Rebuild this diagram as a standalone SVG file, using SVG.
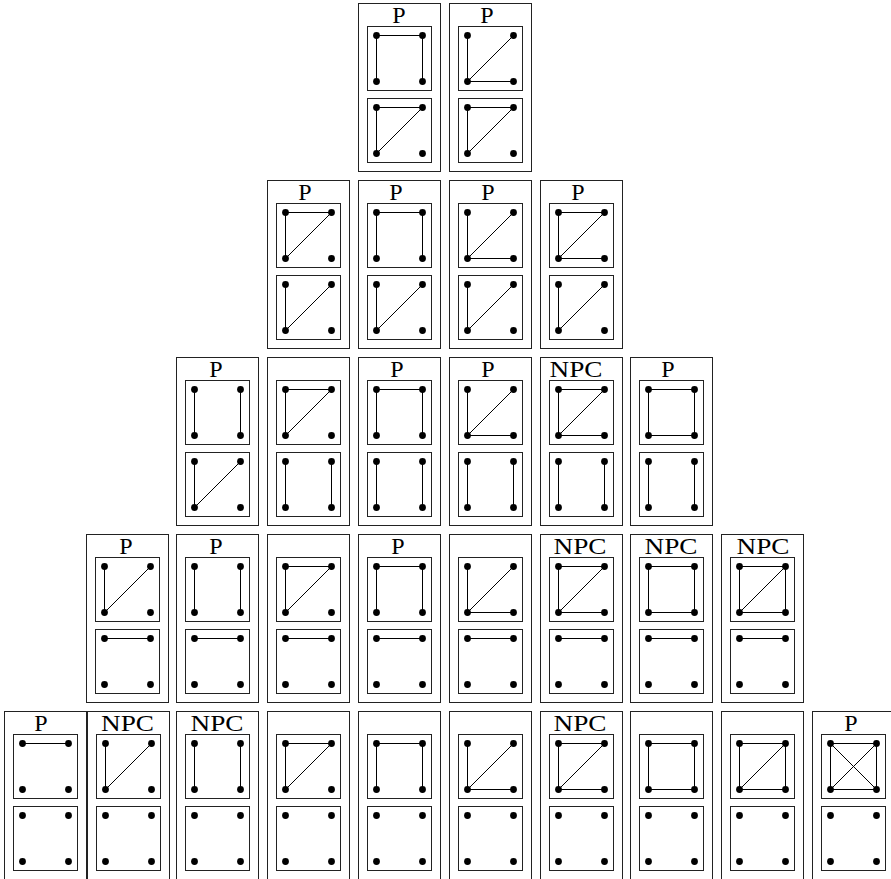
<svg xmlns="http://www.w3.org/2000/svg" xmlns:xlink="http://www.w3.org/1999/xlink" width="891" height="879" viewBox="0 0 891 879">
<style>
.card{fill:none;stroke:#222;stroke-width:1}
.in{fill:none;stroke:#222;stroke-width:1}
.e{fill:none;stroke:#000;stroke-width:1}
.dot{fill:#000}
.lbl{font-family:"Liberation Serif","DejaVu Serif",serif;font-size:24px;text-anchor:middle;fill:#000}
</style>
<defs>
<g id="dots"><circle class="dot" cx="9.5" cy="9.5" r="3.4"/><circle class="dot" cx="55.5" cy="9.5" r="3.4"/><circle class="dot" cx="9.5" cy="55.5" r="3.4"/><circle class="dot" cx="55.5" cy="55.5" r="3.4"/></g>
<rect id="box" class="in" x="0.5" y="0.5" width="64" height="64"/>
<path id="eT" class="e" d="M9.5 9.5H55.5"/>
<path id="eB" class="e" d="M9.5 55.5H55.5"/>
<path id="eL" class="e" d="M9.5 9.5V55.5"/>
<path id="eR" class="e" d="M55.5 9.5V55.5"/>
<path id="eD" class="e" d="M9.5 55.5L55.5 9.5"/>
<path id="eE" class="e" d="M9.5 9.5L55.5 55.5"/>
<rect id="frame" class="card" x="0.5" y="0.5" width="82" height="168"/>
</defs>
<rect width="891" height="879" fill="#fff"/>

<!-- Row 1 -->
<g id="r1c1" transform="translate(358,3)"><use href="#frame"/><text class="lbl" x="41" y="20">P</text>
<g transform="translate(9,23)"><use href="#box"/><use href="#eT"/><use href="#eL"/><use href="#eR"/><use href="#dots"/></g>
<g transform="translate(9,95)"><use href="#box"/><use href="#eT"/><use href="#eL"/><use href="#eD"/><use href="#dots"/></g></g>
<g id="r1c2" transform="translate(449,3)"><use href="#frame"/><text class="lbl" x="38" y="20">P</text>
<g transform="translate(9,23)"><use href="#box"/><use href="#eL"/><use href="#eD"/><use href="#eB"/><use href="#dots"/></g>
<g transform="translate(9,95)"><use href="#box"/><use href="#eT"/><use href="#eL"/><use href="#eD"/><use href="#dots"/></g></g>

<!-- Row 2 -->
<g id="r2c1" transform="translate(267,180)"><use href="#frame"/><text class="lbl" x="38" y="20">P</text>
<g transform="translate(9,23)"><use href="#box"/><use href="#eT"/><use href="#eL"/><use href="#eD"/><use href="#dots"/></g>
<g transform="translate(9,95)"><use href="#box"/><use href="#eL"/><use href="#eD"/><use href="#dots"/></g></g>
<g id="r2c2" transform="translate(358,180)"><use href="#frame"/><text class="lbl" x="38" y="20">P</text>
<g transform="translate(9,23)"><use href="#box"/><use href="#eT"/><use href="#eL"/><use href="#eR"/><use href="#dots"/></g>
<g transform="translate(9,95)"><use href="#box"/><use href="#eL"/><use href="#eD"/><use href="#dots"/></g></g>
<g id="r2c3" transform="translate(449,180)"><use href="#frame"/><text class="lbl" x="39" y="20">P</text>
<g transform="translate(9,23)"><use href="#box"/><use href="#eL"/><use href="#eD"/><use href="#eB"/><use href="#dots"/></g>
<g transform="translate(9,95)"><use href="#box"/><use href="#eL"/><use href="#eD"/><use href="#dots"/></g></g>
<g id="r2c4" transform="translate(540,180)"><use href="#frame"/><text class="lbl" x="38" y="20">P</text>
<g transform="translate(9,23)"><use href="#box"/><use href="#eT"/><use href="#eL"/><use href="#eD"/><use href="#eB"/><use href="#dots"/></g>
<g transform="translate(9,95)"><use href="#box"/><use href="#eL"/><use href="#eD"/><use href="#dots"/></g></g>

<!-- Row 3 -->
<g id="r3c1" transform="translate(176,357)"><use href="#frame"/><text class="lbl" x="40" y="20">P</text>
<g transform="translate(9,23)"><use href="#box"/><use href="#eL"/><use href="#eR"/><use href="#dots"/></g>
<g transform="translate(9,95)"><use href="#box"/><use href="#eL"/><use href="#eD"/><use href="#dots"/></g></g>
<g id="r3c2" transform="translate(267,357)"><use href="#frame"/>
<g transform="translate(9,23)"><use href="#box"/><use href="#eT"/><use href="#eL"/><use href="#eD"/><use href="#dots"/></g>
<g transform="translate(9,95)"><use href="#box"/><use href="#eL"/><use href="#eR"/><use href="#dots"/></g></g>
<g id="r3c3" transform="translate(358,357)"><use href="#frame"/><text class="lbl" x="39" y="20">P</text>
<g transform="translate(9,23)"><use href="#box"/><use href="#eT"/><use href="#eL"/><use href="#eR"/><use href="#dots"/></g>
<g transform="translate(9,95)"><use href="#box"/><use href="#eL"/><use href="#eR"/><use href="#dots"/></g></g>
<g id="r3c4" transform="translate(449,357)"><use href="#frame"/><text class="lbl" x="39" y="20">P</text>
<g transform="translate(9,23)"><use href="#box"/><use href="#eL"/><use href="#eD"/><use href="#eB"/><use href="#dots"/></g>
<g transform="translate(9,95)"><use href="#box"/><use href="#eL"/><use href="#eR"/><use href="#dots"/></g></g>
<g id="r3c5" transform="translate(540,357)"><use href="#frame"/><text class="lbl" x="36" y="20" textLength="53" lengthAdjust="spacingAndGlyphs">NPC</text>
<g transform="translate(9,23)"><use href="#box"/><use href="#eT"/><use href="#eL"/><use href="#eD"/><use href="#eB"/><use href="#dots"/></g>
<g transform="translate(9,95)"><use href="#box"/><use href="#eL"/><use href="#eR"/><use href="#dots"/></g></g>
<g id="r3c6" transform="translate(630,357)"><use href="#frame"/><text class="lbl" x="38" y="20">P</text>
<g transform="translate(9,23)"><use href="#box"/><use href="#eT"/><use href="#eL"/><use href="#eR"/><use href="#eB"/><use href="#dots"/></g>
<g transform="translate(9,95)"><use href="#box"/><use href="#eL"/><use href="#eR"/><use href="#dots"/></g></g>

<!-- Row 4 -->
<g id="r4c1" transform="translate(86,534)"><use href="#frame"/><text class="lbl" x="40" y="20">P</text>
<g transform="translate(9,23)"><use href="#box"/><use href="#eL"/><use href="#eD"/><use href="#dots"/></g>
<g transform="translate(9,95)"><use href="#box"/><use href="#eT"/><use href="#dots"/></g></g>
<g id="r4c2" transform="translate(176,534)"><use href="#frame"/><text class="lbl" x="40" y="20">P</text>
<g transform="translate(9,23)"><use href="#box"/><use href="#eL"/><use href="#eR"/><use href="#dots"/></g>
<g transform="translate(9,95)"><use href="#box"/><use href="#eT"/><use href="#dots"/></g></g>
<g id="r4c3" transform="translate(267,534)"><use href="#frame"/>
<g transform="translate(9,23)"><use href="#box"/><use href="#eT"/><use href="#eL"/><use href="#eD"/><use href="#dots"/></g>
<g transform="translate(9,95)"><use href="#box"/><use href="#eT"/><use href="#dots"/></g></g>
<g id="r4c4" transform="translate(358,534)"><use href="#frame"/><text class="lbl" x="40" y="20">P</text>
<g transform="translate(9,23)"><use href="#box"/><use href="#eT"/><use href="#eL"/><use href="#eR"/><use href="#dots"/></g>
<g transform="translate(9,95)"><use href="#box"/><use href="#eT"/><use href="#dots"/></g></g>
<g id="r4c5" transform="translate(449,534)"><use href="#frame"/>
<g transform="translate(9,23)"><use href="#box"/><use href="#eL"/><use href="#eD"/><use href="#eB"/><use href="#dots"/></g>
<g transform="translate(9,95)"><use href="#box"/><use href="#eT"/><use href="#dots"/></g></g>
<g id="r4c6" transform="translate(540,534)"><use href="#frame"/><text class="lbl" x="40" y="20" textLength="53" lengthAdjust="spacingAndGlyphs">NPC</text>
<g transform="translate(9,23)"><use href="#box"/><use href="#eT"/><use href="#eL"/><use href="#eD"/><use href="#eB"/><use href="#dots"/></g>
<g transform="translate(9,95)"><use href="#box"/><use href="#eT"/><use href="#dots"/></g></g>
<g id="r4c7" transform="translate(630,534)"><use href="#frame"/><text class="lbl" x="41" y="20" textLength="53" lengthAdjust="spacingAndGlyphs">NPC</text>
<g transform="translate(9,23)"><use href="#box"/><use href="#eT"/><use href="#eL"/><use href="#eR"/><use href="#eB"/><use href="#dots"/></g>
<g transform="translate(9,95)"><use href="#box"/><use href="#eT"/><use href="#dots"/></g></g>
<g id="r4c8" transform="translate(721,534)"><use href="#frame"/><text class="lbl" x="42" y="20" textLength="53" lengthAdjust="spacingAndGlyphs">NPC</text>
<g transform="translate(9,23)"><use href="#box"/><use href="#eT"/><use href="#eL"/><use href="#eR"/><use href="#eB"/><use href="#eD"/><use href="#dots"/></g>
<g transform="translate(9,95)"><use href="#box"/><use href="#eT"/><use href="#dots"/></g></g>

<!-- Row 5 -->
<g id="r5c1" transform="translate(4,711)"><use href="#frame"/><text class="lbl" x="37" y="20">P</text>
<g transform="translate(9,23)"><use href="#box"/><use href="#eT"/><use href="#dots"/></g>
<g transform="translate(9,95)"><use href="#box"/><use href="#dots"/></g></g>
<g id="r5c2" transform="translate(87,711)"><use href="#frame"/><text class="lbl" x="40.5" y="20" textLength="53" lengthAdjust="spacingAndGlyphs">NPC</text>
<g transform="translate(9,23)"><use href="#box"/><use href="#eL"/><use href="#eD"/><use href="#dots"/></g>
<g transform="translate(9,95)"><use href="#box"/><use href="#dots"/></g></g>
<g id="r5c3" transform="translate(176,711)"><use href="#frame"/><text class="lbl" x="41" y="20" textLength="53" lengthAdjust="spacingAndGlyphs">NPC</text>
<g transform="translate(9,23)"><use href="#box"/><use href="#eL"/><use href="#eR"/><use href="#dots"/></g>
<g transform="translate(9,95)"><use href="#box"/><use href="#dots"/></g></g>
<g id="r5c4" transform="translate(267,711)"><use href="#frame"/>
<g transform="translate(9,23)"><use href="#box"/><use href="#eT"/><use href="#eL"/><use href="#eD"/><use href="#dots"/></g>
<g transform="translate(9,95)"><use href="#box"/><use href="#dots"/></g></g>
<g id="r5c5" transform="translate(358,711)"><use href="#frame"/>
<g transform="translate(9,23)"><use href="#box"/><use href="#eT"/><use href="#eL"/><use href="#eR"/><use href="#dots"/></g>
<g transform="translate(9,95)"><use href="#box"/><use href="#dots"/></g></g>
<g id="r5c6" transform="translate(449,711)"><use href="#frame"/>
<g transform="translate(9,23)"><use href="#box"/><use href="#eL"/><use href="#eD"/><use href="#eB"/><use href="#dots"/></g>
<g transform="translate(9,95)"><use href="#box"/><use href="#dots"/></g></g>
<g id="r5c7" transform="translate(540,711)"><use href="#frame"/><text class="lbl" x="40" y="20" textLength="53" lengthAdjust="spacingAndGlyphs">NPC</text>
<g transform="translate(9,23)"><use href="#box"/><use href="#eT"/><use href="#eL"/><use href="#eD"/><use href="#eB"/><use href="#dots"/></g>
<g transform="translate(9,95)"><use href="#box"/><use href="#dots"/></g></g>
<g id="r5c8" transform="translate(630,711)"><use href="#frame"/>
<g transform="translate(9,23)"><use href="#box"/><use href="#eT"/><use href="#eL"/><use href="#eR"/><use href="#eB"/><use href="#dots"/></g>
<g transform="translate(9,95)"><use href="#box"/><use href="#dots"/></g></g>
<g id="r5c9" transform="translate(721,711)"><use href="#frame"/>
<g transform="translate(9,23)"><use href="#box"/><use href="#eT"/><use href="#eL"/><use href="#eR"/><use href="#eB"/><use href="#eD"/><use href="#dots"/></g>
<g transform="translate(9,95)"><use href="#box"/><use href="#dots"/></g></g>
<g id="r5c10" transform="translate(812,711)"><use href="#frame"/><text class="lbl" x="39" y="20">P</text>
<g transform="translate(9,23)"><use href="#box"/><use href="#eT"/><use href="#eL"/><use href="#eR"/><use href="#eB"/><use href="#eD"/><use href="#eE"/><use href="#dots"/></g>
<g transform="translate(9,95)"><use href="#box"/><use href="#dots"/></g></g>

<g id="connectors"></g>
</svg>
